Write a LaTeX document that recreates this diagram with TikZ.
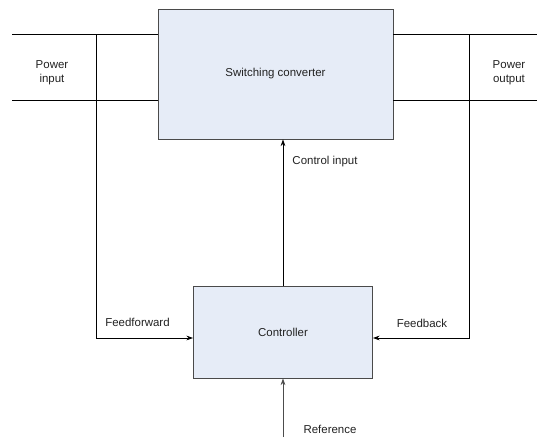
\documentclass[tikz,border=0pt]{standalone}
\usepackage{fontspec}
\setmainfont{Liberation Sans}
\usepackage{xcolor}
\usetikzlibrary{arrows.meta}
\definecolor{boxfill}{HTML}{E6ECF7}
\definecolor{boxline}{HTML}{4A4A4A}
\definecolor{txt}{HTML}{222222}
\tikzset{
    block/.style={rectangle, draw=boxline, fill=boxfill, line width=0.65pt},
    lbl/.style={inner sep=0pt, align=center, text=txt, font=\fontsize{8.6}{10.2}\selectfont},
    wire/.style={line width=0.55pt},
    sig/.style={wire, -{Stealth[length=5pt,width=3.5pt]}}
}

\begin{document}
\begin{tikzpicture}[x=0.75pt, y=-0.75pt]
    \useasboundingbox (0,0) rectangle (537,439);

    % Blocks
    \node[block, minimum width=176.25pt, minimum height=97.5pt] (conv) at (275.5,74) {};
    \node[lbl] at (conv.center) {Switching converter};
    \node[block, minimum width=134.25pt, minimum height=69pt] (ctrl) at (283,332) {};
    \node[lbl] at (ctrl.center) {Controller};

    % Power lines
    \foreach \y [count=\k] in {34,100} {
        \coordinate (in\k) at (12,\y);
        \coordinate (out\k) at (537,\y);
        \draw[wire] (in\k) -- (in\k -| conv.west);
        \draw[wire] (out\k) -- (out\k -| conv.east);
    }
    \node[lbl] (pin) at (52,73) {Power\\input};
    \node[lbl] (pout) at (509,73) {Power\\output};

    % Feedforward and feedback
    \coordinate (ff) at (96,34);
    \coordinate (fb) at (469,34);
    \draw[sig] (ff) |- ([yshift=-4.5pt]ctrl.west);
    \draw[sig] (fb) |- ([yshift=-4.5pt]ctrl.east);
    \node[lbl] (fflbl) at (137.5,322) {Feedforward};
    \node[lbl] (fblbl) at (422,323) {Feedback};

    % Control input
    \draw[sig] (ctrl.north) -- (ctrl.north |- conv.south);
    \node[lbl] (cilbl) at (325,162) {Control input};

    % Reference
    \coordinate (ref) at (283,437);
    \draw[sig, black!70] (ref) -- (ctrl.south);
    \node[lbl] (reflbl) at (330,429) {Reference};
\end{tikzpicture}
\end{document}
